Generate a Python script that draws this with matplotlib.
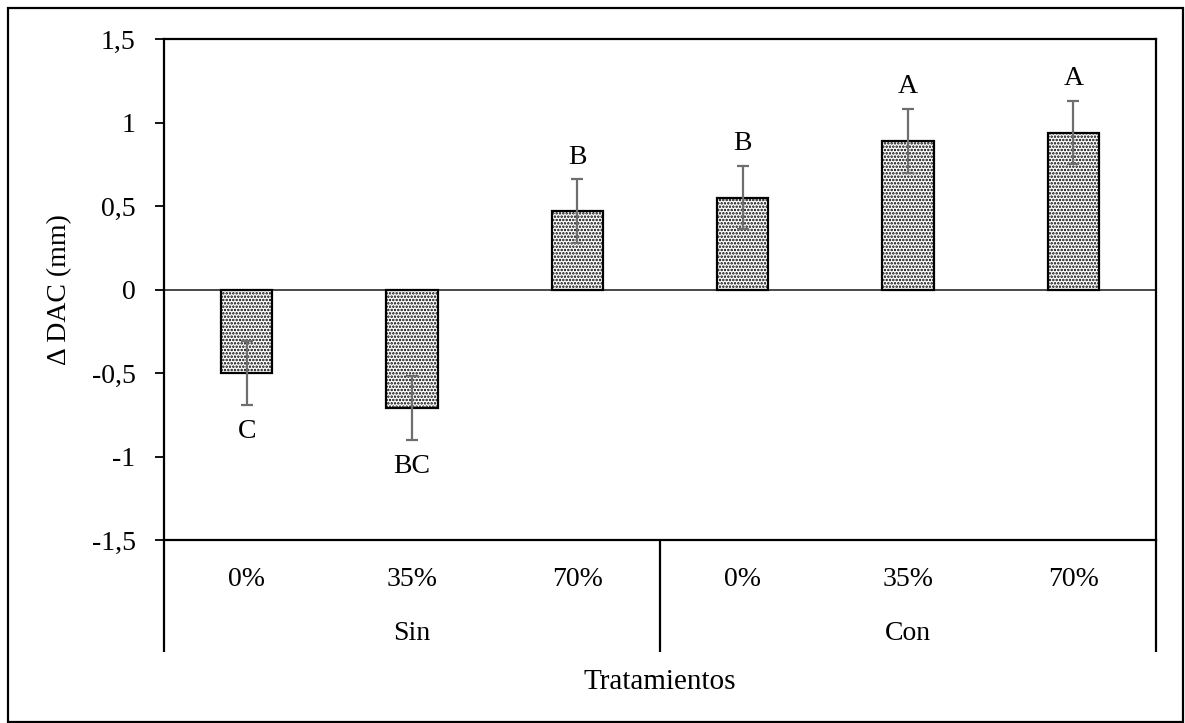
import matplotlib
matplotlib.use("Agg")
import matplotlib.pyplot as plt
from matplotlib.patches import Rectangle
import numpy as np

# Data
sombra = ["0%", "35%", "70%", "0%", "35%", "70%"]
grupos = ["Sin", "Con"]
delta_dac = [-0.50, -0.71, 0.47, 0.55, 0.89, 0.94]
error = [0.19, 0.19, 0.19, 0.19, 0.19, 0.19]
letras = ["C", "BC", "B", "B", "A", "A"]
y_ticks = [-1.5, -1.0, -0.5, 0.0, 0.5, 1.0, 1.5]
y_tick_labels = ["-1,5", "-1", "-0,5", "0", "0,5", "1", "1,5"]

plt.rcParams["font.family"] = ["Liberation Serif", "DejaVu Serif"]
plt.rcParams["hatch.linewidth"] = 1.2
plt.rcParams["hatch.color"] = "black"

W, H = 1185, 723
fig = plt.figure(figsize=(W / 100, H / 100), dpi=100)
ax = fig.add_axes([164 / W, 1 - 540 / H, (1156 - 164) / W, (540 - 39) / H])

x = np.arange(len(delta_dac))
ax.bar(x, delta_dac, width=0.31, color="white", edgecolor="black",
       linewidth=1.6, hatch=".....", zorder=2)
ax.errorbar(x, delta_dac, yerr=error, fmt="none", ecolor="#6e6e6e",
            elinewidth=1.6, capsize=4.3, capthick=1.6, zorder=3)
ax.axhline(0, color="#3a3a3a", linewidth=1.3, zorder=1)

for xi, v, e, lab in zip(x, delta_dac, error, letras):
    if v >= 0:
        ax.annotate(lab, (xi, v + e), xytext=(0, 16), textcoords="offset points",
                    ha="center", va="center", fontsize=20)
    else:
        ax.annotate(lab, (xi, v - e), xytext=(0, -19.5), textcoords="offset points",
                    ha="center", va="center", fontsize=20)

ax.set_xlim(-0.5, len(delta_dac) - 0.5)
ax.set_ylim(-1.5, 1.5)
ax.set_yticks(y_ticks)
ax.set_yticklabels(y_tick_labels, fontsize=20)
ax.tick_params(axis="y", direction="out", length=6.5, width=1.3, pad=14)
ax.set_xticks([])
for s in ax.spines.values():
    s.set_linewidth(1.6)
    s.set_color("black")
ax.set_ylabel("\u0394 DAC (mm)", fontsize=20, labelpad=14)

# Category axis below the plot
tr = ax.get_xaxis_transform()
low = -0.2231
for xv in [-0.5, 2.5, 5.5]:
    ax.plot([xv, xv], [0, low], transform=tr, color="black", lw=1.6,
            clip_on=False, solid_capstyle="butt")
for xi, lab in zip(x, sombra):
    ax.text(xi, -0.0797, lab, transform=tr, ha="center", va="center", fontsize=20)
for gi, g in enumerate(grupos):
    ax.text(gi * 3 + 1, -0.187, g, transform=tr, ha="center", va="center", fontsize=20)
ax.text(2.5, -0.283, "Tratamientos", transform=tr, ha="center", va="center", fontsize=21)

# Outer frame
fig.patches.append(Rectangle((8 / W, 1 / H), (1183 - 8) / W, (715 - 1) / H,
                             transform=fig.transFigure, fill=False,
                             edgecolor="black", linewidth=1.6))

fig.savefig("out.png", dpi=100)
